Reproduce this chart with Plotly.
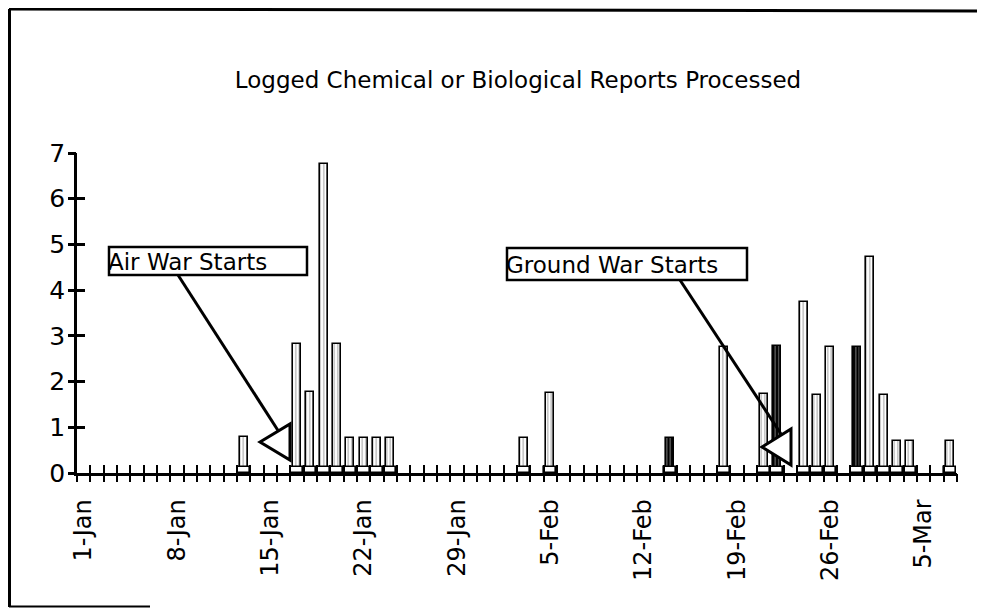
import pandas as pd
import plotly.graph_objects as go

# ---------------- data ----------------
all_days = [f"{d.day}-{d.strftime('%b')}" for d in pd.date_range("1991-01-01", "1991-03-07")]
tick_labels = ["1-Jan", "8-Jan", "15-Jan", "22-Jan", "29-Jan", "5-Feb", "12-Feb", "19-Feb", "26-Feb", "5-Mar"]

report_days = ["13-Jan", "17-Jan", "18-Jan", "19-Jan", "20-Jan", "21-Jan", "22-Jan", "23-Jan", "24-Jan",
               "3-Feb", "5-Feb", "14-Feb", "18-Feb", "21-Feb", "22-Feb", "24-Feb", "25-Feb", "26-Feb",
               "28-Feb", "1-Mar", "2-Mar", "3-Mar", "4-Mar", "7-Mar"]
report_counts = [0.78, 2.82, 1.77, 6.77, 2.82, 0.77, 0.77, 0.77, 0.77,
                 0.76, 1.74, 0.76, 2.76, 1.72, 2.78, 3.75, 1.71, 2.76,
                 2.76, 4.72, 1.71, 0.70, 0.70, 0.70]
dark_days = ["14-Feb", "22-Feb", "28-Feb"]

title_text = "Logged Chemical or Biological Reports Processed"
air_label = "Air War Starts"
ground_label = "Ground War Starts"

# ---------------- geometry (page pixels; the page body adds an 8px margin) ----------------
OFF = 8
W, H = 985 - 2 * OFF, 616 - 2 * OFF
PL, PR, PT, PB = 77, 957, 153, 473          # plot area in page pixels
L, T = PL - OFF, PT - OFF
R, B = W - (PR - OFF), H - (PB - OFF)
PW, PH = PR - PL, PB - PT


def px(x):
    return (x - PL) / PW


def py(y):
    return (PB - y) / PH


FONT = "DejaVu Sans"
BASE_H = 0.14

fill = ["black" if d in dark_days else "white" for d in report_days]

fig = go.Figure()
fig.add_trace(go.Bar(
    x=report_days, y=report_counts, width=0.58,
    marker=dict(color=fill, line=dict(color="black", width=1.6),
                pattern=dict(shape="|", fgcolor="black", bgcolor=fill, size=3.5, solidity=0.3)),
    showlegend=False, hoverinfo="x+y",
))
fig.add_trace(go.Bar(
    x=report_days, y=[BASE_H] * len(report_days), width=0.92,
    marker=dict(color="white", line=dict(color="black", width=1.6), cornerradius=3),
    showlegend=False, hoverinfo="skip",
))

axis_common = dict(showgrid=False, zeroline=False)
n = len(all_days)
tick_x = dict(range=[-0.5, n - 0.5], tickmode="linear", tick0=-0.5, dtick=1, ticklen=8, tickwidth=2,
              tickcolor="black", showticklabels=False, side="bottom", **axis_common)
tick_y = dict(range=[0, 7], tickmode="linear", tick0=0, dtick=1, ticklen=8, tickwidth=2.5,
              tickcolor="black", showticklabels=False, side="left", **axis_common)
fig.update_layout(
    width=W, height=H, margin=dict(l=L, r=R, t=T, b=B, autoexpand=False),
    paper_bgcolor="white", plot_bgcolor="white",
    barmode="overlay", bargap=0,
    font=dict(family=FONT, color="black"),
    title=dict(text=title_text, x=(518 - OFF) / W, y=1 - (80 - OFF) / H, xanchor="center", yanchor="middle",
               font=dict(size=23, family=FONT, color="black")),
    xaxis=dict(type="category", categoryarray=all_days, categoryorder="array",
               range=[-0.5, n - 0.5], tickmode="array", tickvals=tick_labels,
               ticktext=tick_labels, ticks="", tickangle=-90, tickfont=dict(size=24),
               ticklabelstandoff=14,
               showline=True, linecolor="black", linewidth=2.5, automargin=False, **axis_common),
    xaxis2=dict(overlaying="x", anchor="y", ticks="outside", **tick_x),
    xaxis3=dict(overlaying="x", anchor="y", ticks="inside", **tick_x),
    yaxis=dict(range=[0, 7], tickmode="linear", tick0=0, dtick=1, ticks="outside", ticklen=4,
               tickwidth=2.5, tickcolor="black", tickfont=dict(size=25),
               showline=True, linecolor="black", linewidth=2.5, automargin=False, **axis_common),
    yaxis2=dict(overlaying="y", anchor="x", ticks="outside", **tick_y),
    yaxis3=dict(overlaying="y", anchor="x", ticks="inside", **tick_y),
)
# invisible helper traces so the overlay tick axes are drawn
for xa, ya in (("x2", "y2"), ("x3", "y3")):
    fig.add_trace(go.Scatter(x=[0], y=[0], xaxis=xa, yaxis=ya, mode="markers",
                             marker=dict(opacity=0), showlegend=False, hoverinfo="skip"))

shapes = []
# outer frame (top, left, bottom)
shapes.append(dict(type="line", xref="paper", yref="paper", x0=px(9), y0=py(9), x1=px(985), y1=py(11),
                   line=dict(color="black", width=3)))
shapes.append(dict(type="line", xref="paper", yref="paper", x0=px(9.5), y0=py(9), x1=px(9.5), y1=py(607),
                   line=dict(color="black", width=3)))
shapes.append(dict(type="line", xref="paper", yref="paper", x0=px(9), y0=py(606.5), x1=px(150), y1=py(606.5),
                   line=dict(color="black", width=2)))


def callout(box, line_pts, tri, label, size):
    x0, y0, x1, y1 = box
    shapes.append(dict(type="line", xref="paper", yref="paper",
                       x0=px(line_pts[0]), y0=py(line_pts[1]), x1=px(line_pts[2]), y1=py(line_pts[3]),
                       line=dict(color="black", width=3)))
    path = "M {},{} L {},{} L {},{} Z".format(px(tri[0][0]), py(tri[0][1]), px(tri[1][0]), py(tri[1][1]),
                                              px(tri[2][0]), py(tri[2][1]))
    shapes.append(dict(type="path", xref="paper", yref="paper", path=path,
                       fillcolor="white", line=dict(color="black", width=3)))
    shapes.append(dict(type="rect", xref="paper", yref="paper", x0=px(x0), y0=py(y0), x1=px(x1), y1=py(y1),
                       fillcolor="white", line=dict(color="black", width=2.5)))
    fig.add_annotation(xref="paper", yref="paper", x=px(x0 - 3), y=py((y0 + y1) / 2 + 1), text=label,
                       xanchor="left", yanchor="middle", showarrow=False,
                       font=dict(size=size, family=FONT, color="black"))


callout((109, 247, 307, 275), (178, 275, 279, 432),
        [(260, 442), (290, 424), (290, 460)], air_label, 23)
callout((507, 248, 747, 280), (680, 280, 783, 437),
        [(762, 447), (791, 429), (791, 465)], ground_label, 23)

fig.update_layout(shapes=shapes)
fig.write_html("out.html")
